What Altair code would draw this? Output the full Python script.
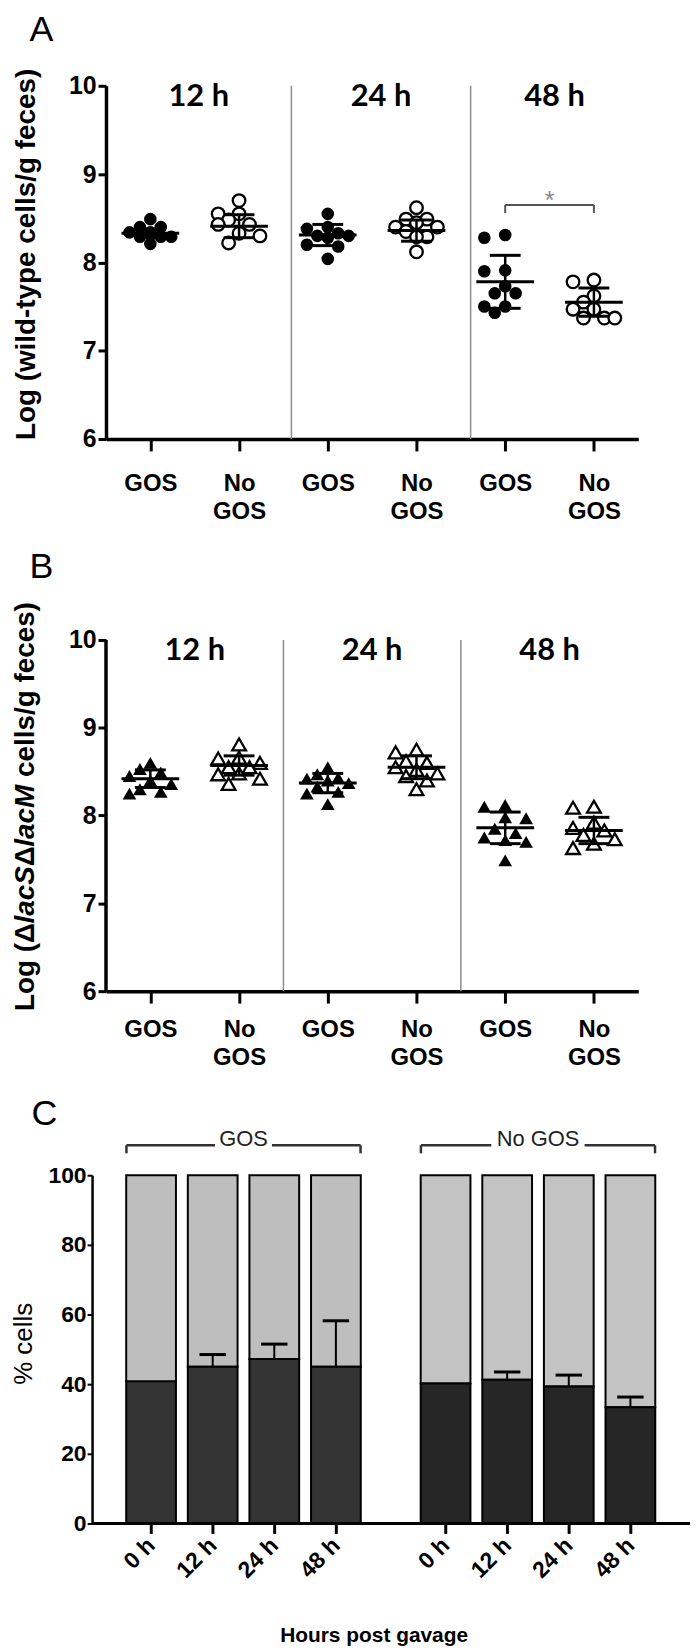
import altair as alt
import pandas as pd

FONT = "Liberation Sans, Arial, Helvetica, sans-serif"
HFONT = "Lato, Liberation Sans, Arial, sans-serif"

# ---------------- data ----------------
time_labels = ["12 h", "24 h", "48 h"]
treatment_labels = ["GOS", "No GOS"]

# Panel A: Log (wild-type cells/g feces)
wt_12h_gos = [8.49, 8.40, 8.40, 8.34, 8.34, 8.29, 8.29, 8.29, 8.21]
wt_12h_nogos = [8.70, 8.55, 8.55, 8.48, 8.43, 8.43, 8.33, 8.30, 8.22]
wt_24h_gos = [8.55, 8.40, 8.38, 8.33, 8.30, 8.30, 8.28, 8.20, 8.18, 8.04]
wt_24h_nogos = [8.62, 8.49, 8.49, 8.45, 8.40, 8.40, 8.35, 8.29, 8.29, 8.12]
wt_48h_gos = [8.28, 8.31, 7.91, 7.90, 7.73, 7.65, 7.65, 7.50, 7.50, 7.43]
wt_48h_nogos = [7.78, 7.80, 7.62, 7.55, 7.47, 7.47, 7.37, 7.37, 7.37]
wt_means = [8.33, 8.41, 8.31, 8.36, 7.78, 7.55]
wt_sds = [0.05, 0.13, 0.12, 0.12, 0.30, 0.16]

# Panel B: Log (dlacS dlacM cells/g feces)
mut_12h_gos = [8.60, 8.53, 8.49, 8.45, 8.40, 8.36, 8.30, 8.27, 8.25]
mut_12h_nogos = [8.81, 8.66, 8.65, 8.60, 8.55, 8.55, 8.48, 8.47, 8.42, 8.36]
mut_24h_gos = [8.55, 8.47, 8.43, 8.42, 8.40, 8.37, 8.33, 8.27, 8.25, 8.13]
mut_24h_nogos = [8.75, 8.72, 8.62, 8.60, 8.55, 8.52, 8.48, 8.45, 8.40, 8.30]
mut_48h_gos = [8.12, 8.10, 7.98, 7.97, 7.85, 7.80, 7.75, 7.72, 7.70, 7.49]
mut_48h_nogos = [8.10, 8.09, 7.92, 7.86, 7.83, 7.78, 7.73, 7.68, 7.63]
mut_means = [8.42, 8.57, 8.37, 8.55, 7.86, 7.83]
mut_sds = [0.10, 0.11, 0.11, 0.13, 0.18, 0.15]

# Panel C: % cells (mutant share, dark) over time
hour_labels = ["0 h", "12 h", "24 h", "48 h"]
gos_mutant_pct = [40.8, 45.0, 47.2, 45.0]
gos_mutant_err = [0.0, 3.5, 4.3, 13.2]
nogos_mutant_pct = [40.2, 41.3, 39.3, 33.4]
nogos_mutant_err = [0.0, 2.2, 3.3, 2.9]

# ---------------- helpers ----------------
def swarm(vals, y_ppu, step=10.5, dmin=12.0):
    order = sorted(range(len(vals)), key=lambda i: -vals[i])
    cands = [0, -1, 1, -2, 2]
    placed, out = [], [0.0] * len(vals)
    for i in order:
        y = vals[i] * y_ppu
        best, best_d = 0.0, -1.0
        for c in cands:
            x = c * step
            d = min([((x - px) ** 2 + (y - py) ** 2) ** 0.5 for px, py in placed] or [1e9])
            if d >= dmin:
                best = x
                break
            if d > best_d:
                best, best_d = x, d
        placed.append((best, y))
        out[i] = best
    return out


def em_width(s):
    w = {"L": .611, "o": .611, "g": .611, " ": .278, "(": .333, "Δ": .70, "l": .278,
         "a": .556, "c": .556, "S": .667, "M": .833, "e": .556, "s": .556, "/": .278,
         "f": .333, ")": .333}
    return sum(w.get(ch, .556) for ch in s)


def scatter_panel(series, means, sds, shape, size, ydom, height, seps, letter,
                  ytitle=None, ytitle_y=0, bracket=False):
    width = 535
    x_ppu = width / 6.0
    y_ppu = height / (ydom[1] - ydom[0])
    rows = []
    for k, vals in enumerate(series):
        offs = swarm(vals, y_ppu)
        for v, o in zip(vals, offs):
            rows.append(dict(pos=k + 0.5 + o / x_ppu, val=v, kind="open" if k % 2 else "filled"))
    pts = pd.DataFrame(rows)
    summ = pd.DataFrame(dict(c=[k + 0.5 for k in range(6)], m=means, sd=sds))
    summ["lo"] = summ.m - summ.sd
    summ["hi"] = summ.m + summ.sd
    summ["mx1"] = summ.c - 29 / x_ppu
    summ["mx2"] = summ.c + 29 / x_ppu
    summ["cx1"] = summ.c - 15.5 / x_ppu
    summ["cx2"] = summ.c + 15.5 / x_ppu
    caps = pd.concat([summ.assign(cy=summ.lo), summ.assign(cy=summ.hi)])

    xs = alt.Scale(domain=[0, 6], nice=False, zero=False)
    ys = alt.Scale(domain=list(ydom), nice=False, zero=False)
    xaxis = alt.Axis(values=[k + 0.5 for k in range(6)],
                     labelExpr="floor(datum.value) % 2 == 0 ? 'GOS' : ['No', 'GOS']",
                     title=None, domainWidth=3.5, tickSize=12, tickWidth=3,
                     labelFont=FONT, labelFontWeight="bold", labelFontSize=24,
                     labelPadding=21 if letter == "A" else 15, labelLineHeight=28,
                     labelBaseline="top", labelAngle=0, grid=False)
    yargs = dict(values=[6, 7, 8, 9, 10], format="d", tickSize=8, tickWidth=3,
                 labelFont=FONT, labelFontWeight="bold", labelFontSize=25, labelPadding=2,
                 grid=False)
    if ytitle:
        yaxis = alt.Axis(title=ytitle, titleX=-72, titleY=ytitle_y, titleAngle=270,
                         titleAlign="center", titleBaseline="alphabetic", titleFont=FONT,
                         titleFontSize=28, titleFontWeight="bold", domainWidth=3.5, **yargs)
    else:
        yaxis = alt.Axis(title=None, domain=False, **yargs)

    def X(f):
        return alt.X(f, type="quantitative", scale=xs, axis=xaxis)

    def Y(f):
        return alt.Y(f, type="quantitative", scale=ys, axis=yaxis)

    layers = []
    sep_df = pd.DataFrame(dict(sx=seps, y0=[6] * len(seps), y1=[10] * len(seps)))
    layers.append(alt.Chart(sep_df).mark_rule(color="#8c8c8c", strokeWidth=1.5)
                  .encode(x=X("sx"), y=Y("y0"), y2="y1"))
    if not ytitle:
        ax_df = pd.DataFrame(dict(y0=[6], y1=[10]))
        layers.append(alt.Chart(ax_df).mark_rule(color="black", strokeWidth=3.5)
                      .encode(x=alt.value(0), y=Y("y0"), y2="y1"))
    layers.append(alt.Chart(pts[pts.kind == "filled"])
                  .mark_point(shape=shape, size=size, filled=True, color="black", opacity=1)
                  .encode(x=X("pos"), y=Y("val")))
    layers.append(alt.Chart(pts[pts.kind == "open"])
                  .mark_point(shape=shape, size=size, filled=True, fill="white", stroke="black",
                              strokeWidth=2.3, opacity=1)
                  .encode(x=X("pos"), y=Y("val")))
    layers.append(alt.Chart(summ).mark_rule(color="black", strokeWidth=3)
                  .encode(x=X("mx1"), x2="mx2", y=Y("m")))
    layers.append(alt.Chart(summ).mark_rule(color="black", strokeWidth=2.5)
                  .encode(x=X("c"), y=Y("lo"), y2="hi"))
    layers.append(alt.Chart(caps).mark_rule(color="black", strokeWidth=3)
                  .encode(x=X("cx1"), x2="cx2", y=Y("cy")))
    bounds = [0] + list(seps) + [6]
    tdf = pd.DataFrame(dict(t=time_labels,
                            tx=[(bounds[i] + bounds[i + 1]) / 2 for i in range(3)],
                            ty=[9.875] * 3))
    layers.append(alt.Chart(tdf).mark_text(font=HFONT, fontSize=31, fontWeight="bold",
                                           baseline="middle", align="center", color="black")
                  .encode(x=X("tx"), y=Y("ty"), text="t:N"))
    if bracket:
        bdf = pd.DataFrame(dict(x1=[4.5], x2=[5.5], y=[8.65]))
        legs = pd.DataFrame(dict(x=[4.5, 5.5], y0=[8.65, 8.65], y1=[8.56, 8.56]))
        layers.append(alt.Chart(bdf).mark_rule(color="#555555", strokeWidth=2)
                      .encode(x=X("x1"), x2="x2", y=Y("y")))
        layers.append(alt.Chart(legs).mark_rule(color="#555555", strokeWidth=2)
                      .encode(x=X("x"), y=Y("y0"), y2="y1"))
        sdf = pd.DataFrame(dict(x=[5.0], y=[8.61], t=["*"]))
        layers.append(alt.Chart(sdf).mark_text(font=FONT, fontSize=26, color="#8a8a8a",
                                               baseline="alphabetic", align="center")
                      .encode(x=X("x"), y=Y("y"), text="t:N"))
    ldf = pd.DataFrame(dict(t=[letter]))
    layers.append(alt.Chart(ldf).mark_text(font=FONT, fontSize=36, align="left",
                                           baseline="alphabetic", color="black")
                  .encode(x=alt.value(-77), y=alt.value(-45), text="t:N"))
    return layers, width, height


# ---------------- panel A ----------------
a_layers, a_w, a_h = scatter_panel(
    [wt_12h_gos, wt_12h_nogos, wt_24h_gos, wt_24h_nogos, wt_48h_gos, wt_48h_nogos],
    wt_means, wt_sds, "circle", 160, (6, 10), 355, [2.09, 4.11], "A",
    ytitle="Log (wild-type cells/g feces)", ytitle_y=169, bracket=True)
panel_a = alt.layer(*a_layers).properties(width=a_w, height=a_h)

# ---------------- panel B ----------------
b_layers, b_w, b_h = scatter_panel(
    [mut_12h_gos, mut_12h_nogos, mut_24h_gos, mut_24h_nogos, mut_48h_gos, mut_48h_nogos],
    mut_means, mut_sds, "triangle-up", 190, (6, 10.1925), 370, [2.0, 4.0], "B")

b_title_parts = ["Log (Δ", "lacS", "Δ", "lacM", " cells/g feces)"]
b_title_italic = [False, True, False, True, False]
start = 390.0
rows = []
for part, it in zip(b_title_parts, b_title_italic):
    lead = len(part) - len(part.lstrip(" "))
    start_here = start - em_width(" " * lead) * 28
    rows.append(dict(t=part.strip(" "), y=start_here, it=it))
    start -= em_width(part) * 28
for r in rows:
    b_layers.append(
        alt.Chart(pd.DataFrame([dict(t=r["t"])]))
        .mark_text(font=FONT, fontSize=28, fontWeight="bold",
                   fontStyle="italic" if r["it"] else "normal",
                   angle=270, align="left", baseline="alphabetic", color="black")
        .encode(x=alt.value(-72), y=alt.value(r["y"]), text="t:N"))
panel_b = alt.layer(*b_layers).properties(width=b_w, height=b_h)

# ---------------- panel C ----------------
C_W, C_H = 587, 350
gap_groups = 4.78
rows = []
for g, (pcts, errs) in enumerate([(gos_mutant_pct, gos_mutant_err),
                                  (nogos_mutant_pct, nogos_mutant_err)]):
    for i, (p, e) in enumerate(zip(pcts, errs)):
        rows.append(dict(pos=i + g * gap_groups, pct=p, err=e, top=p + e, full=100.0, zero=0.0,
                         dark="#333333" if g == 0 else "#262626",
                         light="#bebebe" if g == 0 else "#c3c3c3"))
cdf = pd.DataFrame(rows)
cdf["cx1"] = cdf.pos - 13.5 / 63
cdf["cx2"] = cdf.pos + 13.5 / 63
edf = cdf[cdf.err > 0]

xs_c = alt.Scale(domain=[-0.651, 8.667], nice=False, zero=False)
ys_c = alt.Scale(domain=[0, 100], nice=False, zero=False)
lab_expr = " : ".join(
    f"abs(datum.value - {r.pos}) < 0.01 ? '{hour_labels[i % 4]}'" for i, r in cdf.iterrows()
) + " : ''"
xaxis_c = alt.Axis(values=list(cdf.pos), labelExpr=lab_expr, domain=False, tickSize=10,
                   tickWidth=3, labelAngle=315, labelAlign="right", labelBaseline="middle",
                   labelPadding=8, labelFont=FONT, labelFontSize=23, labelFontWeight="bold",
                   title="Hours post gavage", titleX=269, titleY=119,
                   titleBaseline="alphabetic", titleAlign="center", titleFont=FONT,
                   titleFontSize=21, titleFontWeight="bold", grid=False)
yaxis_c = alt.Axis(values=[0, 20, 40, 60, 80, 100], offset=14, title="% cells",
                   titleX=-61, titleY=169, titleAngle=270, titleAlign="center",
                   titleBaseline="alphabetic", titleFont=FONT, titleFontSize=26,
                   titleFontWeight="normal", domainWidth=2.5, tickSize=5, tickWidth=2,
                   labelFont=FONT, labelFontSize=23, labelFontWeight="bold", labelPadding=1,
                   grid=False)


def Xc(f):
    return alt.X(f, type="quantitative", scale=xs_c, axis=xaxis_c)


def Yc(f):
    return alt.Y(f, type="quantitative", scale=ys_c, axis=yaxis_c)


c_layers = [
    alt.Chart(cdf).mark_bar(size=50, stroke="black", strokeWidth=2)
    .encode(x=Xc("pos"), y=Yc("pct"), y2="full", fill=alt.Fill("light:N", scale=None)),
    alt.Chart(cdf).mark_bar(size=50, stroke="black", strokeWidth=2)
    .encode(x=Xc("pos"), y=Yc("zero"), y2="pct", fill=alt.Fill("dark:N", scale=None)),
    alt.Chart(edf).mark_rule(color="black", strokeWidth=2).encode(x=Xc("pos"), y=Yc("pct"), y2="top"),
    alt.Chart(edf).mark_rule(color="black", strokeWidth=3).encode(x=Xc("cx1"), x2="cx2", y=Yc("top")),
]

# group brackets above the bars
seg_rows, leg_rows, lab_rows = [], [], []
for g, name in enumerate(treatment_labels):
    first, last = g * gap_groups, 3 + g * gap_groups
    left, right, mid = first - 0.4, last + 0.4, (first + last) / 2
    half_gap = (10.5 + 6.2 * len(name)) / 63
    seg_rows += [dict(x1=left, x2=mid - half_gap, y=108.6), dict(x1=mid + half_gap, x2=right, y=108.6)]
    leg_rows += [dict(x=left, y0=108.6, y1=106.3), dict(x=right, y0=108.6, y1=106.3)]
    lab_rows.append(dict(x=mid, y=110.4, t=name))
c_layers.append(alt.Chart(pd.DataFrame(seg_rows)).mark_rule(color="#333333", strokeWidth=2.5)
                .encode(x=Xc("x1"), x2="x2", y=Yc("y")))
c_layers.append(alt.Chart(pd.DataFrame(leg_rows)).mark_rule(color="#333333", strokeWidth=2.5)
                .encode(x=Xc("x"), y=Yc("y0"), y2="y1"))
c_layers.append(alt.Chart(pd.DataFrame(lab_rows)).mark_text(font=FONT, fontSize=22, color="#222222",
                                                            baseline="middle", align="center")
                .encode(x=Xc("x"), y=Yc("y"), text="t:N"))
# x axis baseline reaching the offset y axis
c_layers.append(alt.Chart(pd.DataFrame(dict(t=["x"]))).mark_rule(color="black", strokeWidth=3)
                .encode(x=alt.value(-14), x2=alt.value(C_W), y=alt.value(C_H)))
c_layers.append(alt.Chart(pd.DataFrame(dict(t=["C"]))).mark_text(font=FONT, fontSize=36, align="left",
                                                                 baseline="alphabetic", color="black")
                .encode(x=alt.value(-75), y=alt.value(-50), text="t:N"))
panel_c = alt.layer(*c_layers).properties(width=C_W, height=C_H)

chart = (
    alt.vconcat(panel_a, panel_b, panel_c, spacing=185, bounds="flush")
    .properties(padding={"left": 2.5, "top": 0, "right": 0, "bottom": 0}, background="white")
    .configure_view(strokeWidth=0)
    .configure_axis(grid=False, domainColor="black", tickColor="black",
                    labelColor="black", titleColor="black")
)

chart.save("out.html", embed_options={"renderer": "svg", "actions": False})
